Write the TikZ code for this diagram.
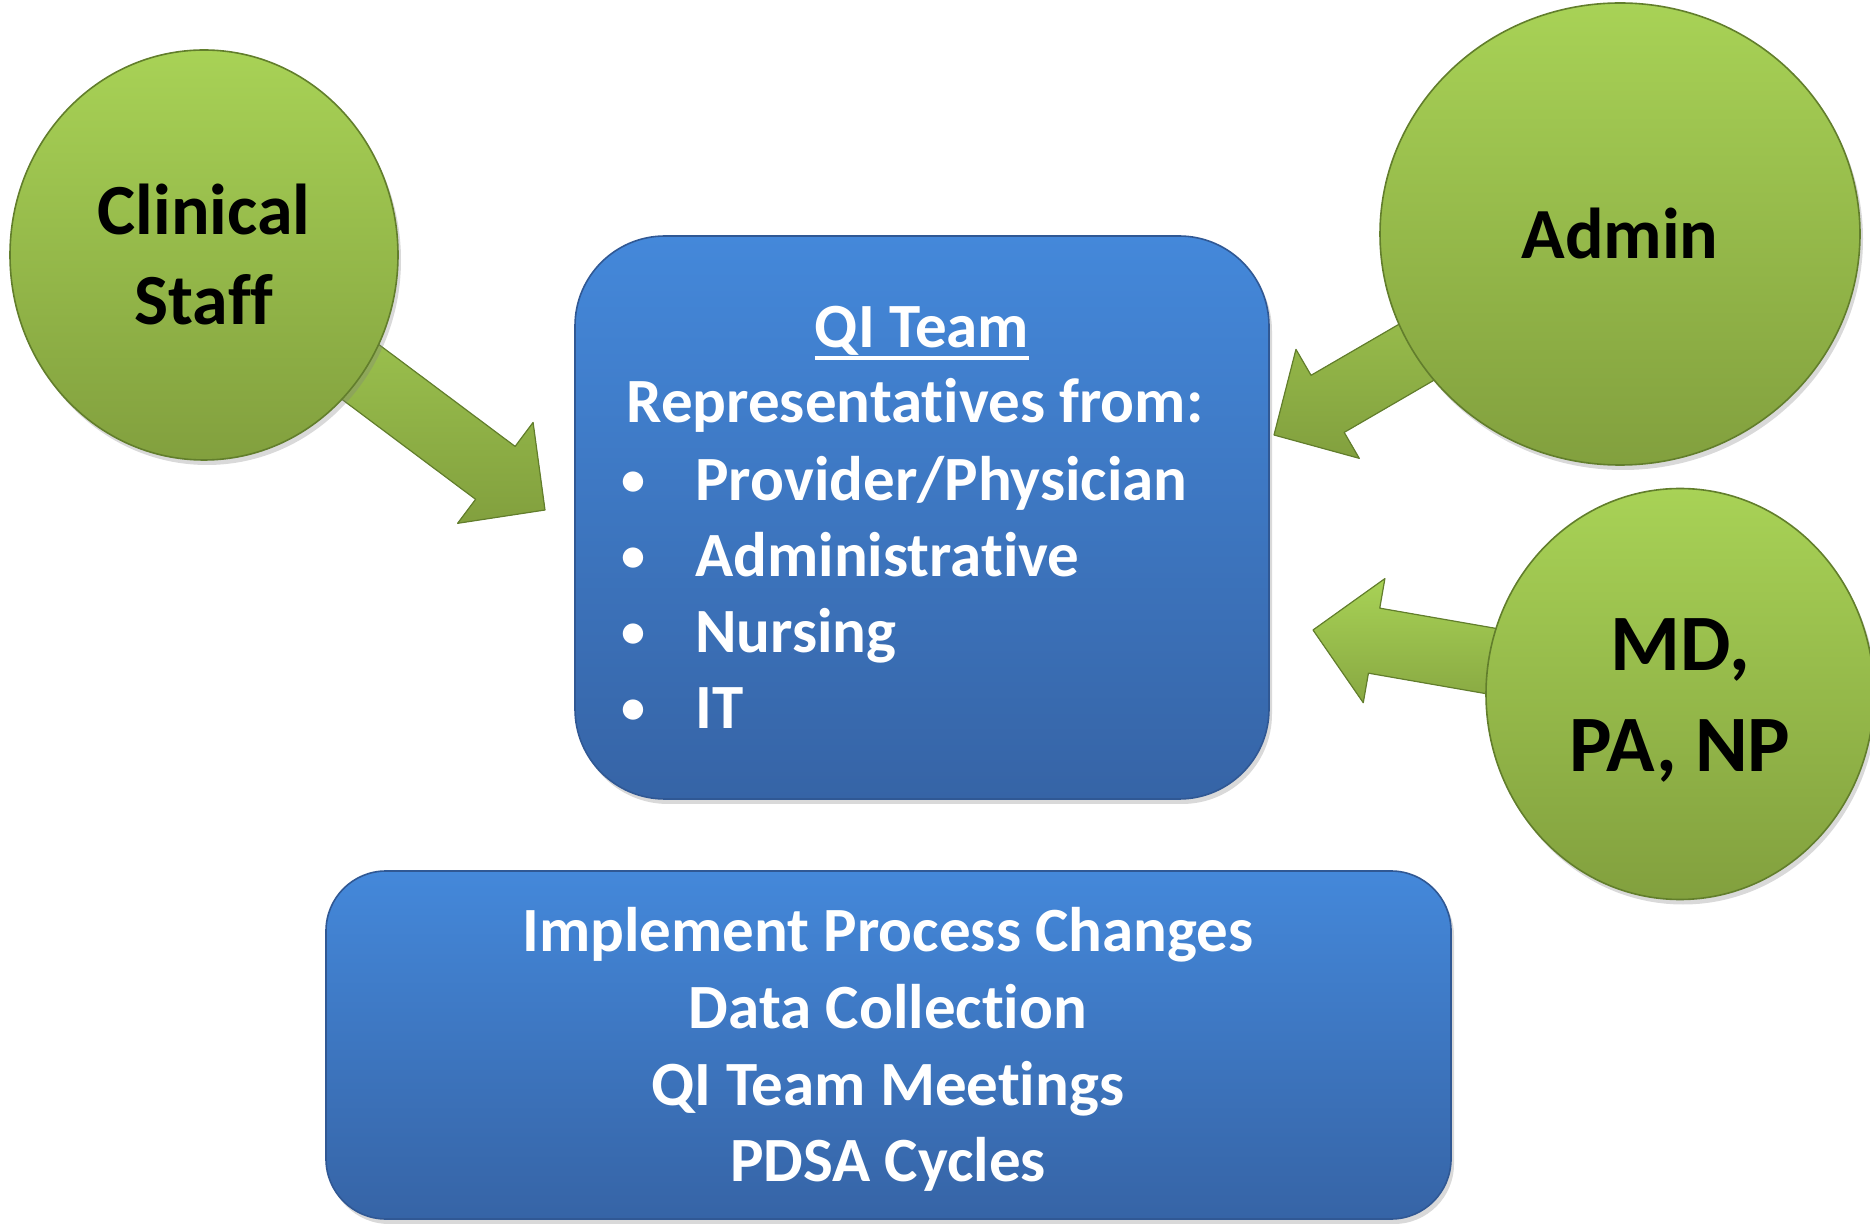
\documentclass[tikz,border=0pt]{standalone}
\usepackage{fontspec}
\setmainfont{Carlito}[Ligatures=NoCommon]
\usetikzlibrary{calc,shapes.geometric,shadows,backgrounds}

\definecolor{grtop}{RGB}{168,210,86}
\definecolor{grbot}{RGB}{130,160,62}
\definecolor{gredge}{RGB}{98,126,44}
\definecolor{bltop}{RGB}{68,136,218}
\definecolor{blbot}{RGB}{54,100,166}
\definecolor{bledge}{RGB}{48,88,148}

\tikzset{
  bubble/.style={ellipse, draw=gredge, line width=0.8pt, top color=grtop, bottom color=grbot,
    inner sep=0pt, align=center, font=\fontsize{36}{45}\selectfont\bfseries,
    drop shadow={opacity=0.3, shadow xshift=1.5pt, shadow yshift=-2.5pt}},
  bluebox/.style={rectangle, draw=bledge, line width=0.8pt, top color=bltop, bottom color=blbot,
    drop shadow={opacity=0.3, shadow xshift=1.5pt, shadow yshift=-2.5pt}},
  boxtext/.style={white, font=\fontsize{31.5}{38}\selectfont\bfseries, anchor=base, inner sep=0pt},
  arrowbody/.style={draw=gredge, line width=0.6pt, top color=grtop, bottom color=grbot, line join=round}
}

% block arrow from the centre of a node to a tip coordinate
\newcommand\fatarrow[2]{%
  \coordinate (#2b) at ($(#2)!31pt!(#1.center)$);
  \filldraw[arrowbody] ($(#1.center)!16.5pt!90:(#2)$) -- ($(#2b)!16.5pt!90:(#2)$)
    -- ($(#2b)!31.5pt!90:(#2)$) -- (#2) -- ($(#2b)!31.5pt!-90:(#2)$)
    -- ($(#2b)!16.5pt!-90:(#2)$) -- ($(#1.center)!16.5pt!-90:(#2)$) -- cycle;}

\begin{document}
\begin{tikzpicture}[x=0.5pt, y=-0.5pt]
  \useasboundingbox (0,0) rectangle (1870,1224);
  % groups around the team
  \node[bubble, minimum width=194pt, minimum height=205pt] (clin) at (204,255) {Clinical\\Staff};
  \node[bubble, minimum width=240pt, minimum height=231pt] (admin) at (1620,234) {Admin};
  \node[bubble, minimum width=194pt, minimum height=205.5pt, font=\fontsize{40}{50.5}\selectfont\bfseries]
    (md) at (1680,694) {\rule{0pt}{32pt}MD,\\PA, NP};
  \coordinate (clintip) at (545,510);
  \coordinate (admintip) at (1274,435);
  \coordinate (mdtip) at (1313,630);
  \begin{scope}[on background layer]
    \fatarrow{clin}{clintip}
    \fatarrow{admin}{admintip}
    \fatarrow{md}{mdtip}
  \end{scope}
  % QI team
  \node[bluebox, minimum width=347pt, minimum height=281.5pt, rounded corners=45pt] (qi) at (922,517.5) {};
  \node[boxtext] (qihead) at (922,348) {QI Team};
  \draw[white, line width=1.6pt] ($(qihead.base west)+(0,10)$) -- ($(qihead.base east)+(0,10)$);
  \node[boxtext] (qirep) at (915,423) {Representatives from:};
  \foreach \who [count=\i] in {{Provider/Physician}, Administrative, Nursing, IT} {
    \node[boxtext, font=\fontsize{24}{30}\selectfont\bfseries] (bul\i) at (633,{420+76*\i}) {\textbullet};
    \node[boxtext, anchor=base west] (mem\i) at (695,{425+76*\i}) {\who};
  }
  % activities
  \node[bluebox, minimum width=562.5pt, minimum height=174pt, rounded corners=30pt] (todo) at (888.5,1045) {};
  \foreach \task [count=\i] in {Implement Process Changes, Data Collection, QI Team Meetings, PDSA Cycles}
    \node[boxtext] (task\i) at (888,{875+76.7*\i}) {\task};
\end{tikzpicture}
\end{document}
